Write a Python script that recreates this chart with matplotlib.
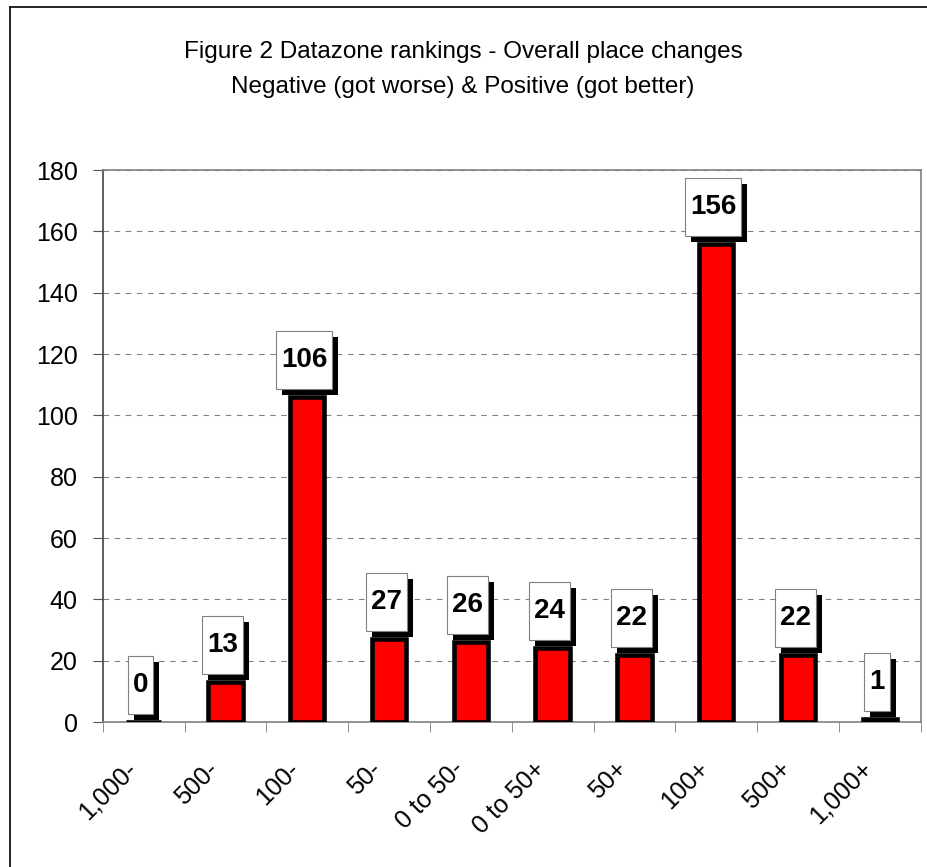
import matplotlib
matplotlib.use("Agg")
import matplotlib.pyplot as plt
from matplotlib.patches import Rectangle
from matplotlib.transforms import ScaledTranslation
from matplotlib.lines import Line2D

plt.rcParams['font.family'] = ['Liberation Sans', 'DejaVu Sans']

# data
categories = ["1,000-", "500-", "100-", "50-", "0 to 50-", "0 to 50+",
              "50+", "100+", "500+", "1,000+"]
counts = [0, 13, 106, 27, 26, 24, 22, 156, 22, 1]
title_lines = ["Figure 2 Datazone rankings - Overall place changes",
               "Negative (got worse) & Positive (got better)"]

W, H = 927, 867
fig = plt.figure(figsize=(W / 100, H / 100), dpi=100)
ax = fig.add_axes([102.7 / W, (H - 722) / H, 818 / W, 552 / H])

# outer chart border (left + top visible)
fig.add_artist(Line2D([10 / W, 10 / W], [0, 1 - 7 / H], transform=fig.transFigure,
                      color='black', lw=1.2))
fig.add_artist(Line2D([10 / W, 1.01], [1 - 7 / H, 1 - 7 / H], transform=fig.transFigure,
                      color='black', lw=1.2))

x = list(range(len(categories)))
ax.bar(x, counts, width=0.42, color='#ff0000', edgecolor='black', linewidth=3.3, zorder=3)

ax.set_xlim(-0.5, len(categories) - 0.5)
ax.set_ylim(0, 180)
ax.set_yticks(range(0, 181, 20))
ax.yaxis.grid(True, color='#808080', linestyle=(0, (5, 5)), linewidth=0.8, zorder=0)
ax.set_axisbelow(True)

# x ticks: marks at boundaries, labels at centres
ax.set_xticks(x)
ax.set_xticklabels(categories, rotation=45, ha='right', va='center',
                   rotation_mode='anchor', fontsize=18)
ax.set_xticks([i - 0.5 for i in range(len(categories) + 1)], minor=True)
ax.tick_params(axis='x', which='major', length=0, pad=31)
ax.tick_params(axis='x', which='minor', length=7, color='#808080', direction='out')
for lab in ax.get_xticklabels():
    lab.set_transform(lab.get_transform() + ScaledTranslation(-0.11, 0, fig.dpi_scale_trans))
ax.tick_params(axis='y', length=7, color='#555555', labelsize=18, pad=11)

for s in ['top', 'right', 'bottom']:
    ax.spines[s].set_color('#808080')
    ax.spines[s].set_linewidth(1.2)
ax.spines['left'].set_color('#444444')
ax.spines['left'].set_linewidth(1.2)

# value label boxes with drop shadow
for xi, v in zip(x, counts):
    txt = str(v)
    bw = 0.1 + 0.155 * len(txt)
    bh = 0.58
    trans = fig.dpi_scale_trans + ScaledTranslation(xi, v, ax.transData)
    x0 = -0.03 - bw / 2
    y0 = 0.08
    ax.add_patch(Rectangle((x0 + 0.06, y0 - 0.06), bw, bh, transform=trans,
                           facecolor='black', edgecolor='none', zorder=4, clip_on=False))
    ax.add_patch(Rectangle((x0, y0), bw, bh, transform=trans,
                           facecolor='white', edgecolor='#808080', linewidth=0.8,
                           zorder=5, clip_on=False))
    ax.text(x0 + bw / 2, y0 + bh / 2, txt, transform=trans, ha='center', va='center',
            fontsize=20, fontweight='bold', zorder=6, clip_on=False)

fig.text(463 / W, 1 - 58 / H, title_lines[0], ha='center', va='baseline', fontsize=17.5)
fig.text(463 / W, 1 - 93 / H, title_lines[1], ha='center', va='baseline', fontsize=17.5)

fig.savefig("out.png", dpi=100)
